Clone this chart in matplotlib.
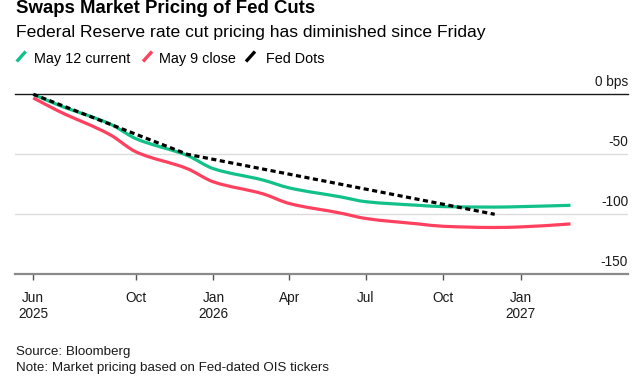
import matplotlib
matplotlib.use("Agg")
import matplotlib.pyplot as plt
import matplotlib.dates as mdates
import matplotlib.transforms as mtransforms
from matplotlib.path import Path
from matplotlib.patches import PathPatch
from matplotlib.lines import Line2D
import numpy as np
import datetime as dt

# ---------------- data ----------------
meeting_dates = ["2025-06-01", "2025-07-01", "2025-09-01", "2025-10-01", "2025-12-01",
                 "2026-01-01", "2026-03-01", "2026-04-01", "2026-06-01", "2026-07-01",
                 "2026-09-01", "2026-10-01", "2026-12-01", "2027-01-01", "2027-03-01"]
may12_current = [0, -9, -25, -37, -51, -62, -71.5, -78, -85.5, -89.5, -92.5, -93.6, -94, -93.6, -92.5]
may9_close = [-3, -14, -34, -48, -62, -73, -83, -91, -99, -103.5, -108, -110, -111, -110.5, -108]
dots_dates = ["2025-06-01", "2025-12-01", "2026-12-01"]
fed_dots = [0, -50, -100]

series_names = ["May 12 current", "May 9 close", "Fed Dots"]
xtick_dates = ["2025-06-01", "2025-10-01", "2026-01-01", "2026-04-01",
               "2026-07-01", "2026-10-01", "2027-01-01"]
xtick_labels = ["Jun\n2025", "Oct", "Jan\n2026", "Apr", "Jul", "Oct", "Jan\n2027"]
ytick_values = [0, -50, -100, -150]
ytick_labels = ["0 bps", "-50", "-100", "-150"]

GREEN = "#12c18a"
RED = "#ff405e"
BLACK = "#000000"

plt.rcParams['font.family'] = ['Liberation Sans', 'DejaVu Sans']


def to_num(ds):
    return np.array([mdates.date2num(dt.datetime.strptime(d, "%Y-%m-%d")) for d in ds])


def smooth_path(x, y):
    """Monotone cubic (Fritsch-Carlson) rendered as Bezier segments."""
    x = np.asarray(x, float)
    y = np.asarray(y, float)
    h = np.diff(x)
    d = np.diff(y) / h
    n = len(x)
    m = np.zeros(n)
    m[0] = d[0]
    m[-1] = d[-1]
    for i in range(1, n - 1):
        if d[i - 1] * d[i] <= 0:
            m[i] = 0
        else:
            w1 = 2 * h[i] + h[i - 1]
            w2 = h[i] + 2 * h[i - 1]
            m[i] = (w1 + w2) / (w1 / d[i - 1] + w2 / d[i])
    verts = [(x[0], y[0])]
    codes = [Path.MOVETO]
    for i in range(n - 1):
        verts += [(x[i] + h[i] / 3, y[i] + m[i] * h[i] / 3),
                  (x[i + 1] - h[i] / 3, y[i + 1] - m[i + 1] * h[i] / 3),
                  (x[i + 1], y[i + 1])]
        codes += [Path.CURVE4] * 3
    return Path(verts, codes)


W, H = 642, 377
fig = plt.figure(figsize=(W / 100, H / 100), dpi=100)

ax_left, ax_right = 15 / W, 628 / W
ax_bottom = 1 - 274.3 / H
ax_top = 1 - 88.3 / H
ax = fig.add_axes([ax_left, ax_bottom, ax_right - ax_left, ax_top - ax_bottom])

xm = to_num(meeting_dates)
xd = to_num(dots_dates)
jun1 = mdates.date2num(dt.datetime(2025, 6, 1))
ax.set_xlim(jun1 - 21.7, jun1 + 706.3)
ax.set_ylim(-150, 5)

# grid lines
for v in ytick_values:
    if v == 0:
        ax.axhline(v, color="#1a1a1a", lw=1.0, zorder=2, clip_on=False)
    elif v == -150:
        pass
    else:
        ax.axhline(v, color="#dcdcdc", lw=1.0, zorder=1)

# lines
p_red = PathPatch(smooth_path(xm, may9_close), facecolor="none", edgecolor=RED,
                  lw=2.3, capstyle="butt", joinstyle="round", zorder=3, clip_on=False)
p_green = PathPatch(smooth_path(xm, may12_current), facecolor="none", edgecolor=GREEN,
                    lw=2.3, capstyle="butt", joinstyle="round", zorder=4, clip_on=False)
ax.add_patch(p_red)
ax.add_patch(p_green)
ax.plot(xd, fed_dots, color=BLACK, lw=2.3, dashes=(1.6, 1.1), zorder=5,
        solid_capstyle="butt", dash_capstyle="butt", clip_on=False)

# spines
for s in ["top", "right", "left"]:
    ax.spines[s].set_visible(False)
ax.spines["bottom"].set_color("#8a8a8a")
ax.spines["bottom"].set_linewidth(1.6)
ax.spines["bottom"].set_zorder(6)

ax.set_yticks([])
ax.set_xticks(to_num(xtick_dates))
ax.set_xticklabels(xtick_labels, fontsize=9.8, color="#1a1a1a", linespacing=1.22)
ax.tick_params(axis="x", length=4, width=1, color="#555555", pad=8, direction="out")

# y labels, right aligned inside the plot, above gridlines
trans = mtransforms.blended_transform_factory(ax.transAxes, ax.transData)
offset = mtransforms.ScaledTranslation(0, 8 / 100, fig.dpi_scale_trans)
for v, lab in zip(ytick_values, ytick_labels):
    ax.text(1.0, v, lab, transform=trans + offset, ha="right", va="baseline",
            fontsize=9.8, color="#1a1a1a")

# titles
fig.text(16 / W, 1 - 12.7 / H, "Swaps Market Pricing of Fed Cuts", fontsize=13.45,
         fontweight="bold", color="#000000", va="baseline", ha="left")
fig.text(16 / W, 1 - 37.3 / H, "Federal Reserve rate cut pricing has diminished since Friday",
         fontsize=12.6, color="#000000", va="baseline", ha="left")

# legend
leg_y = 1 - 62.7 / H
leg_items = [(16.7, 34.3, GREEN), (143, 159, RED), (246, 266, BLACK)]
for (sx, tx, col), name in zip(leg_items, series_names):
    fig.add_artist(Line2D([sx / W, (sx + 9) / W], [1 - 61.5 / H, 1 - 51.5 / H],
                          transform=fig.transFigure, color=col, lw=2.4,
                          solid_capstyle="butt"))
    fig.text(tx / W, leg_y, name, fontsize=10.4, color="#000000", va="baseline", ha="left")

# footer
fig.text(16 / W, 1 - 354.5 / H, "Source: Bloomberg", fontsize=9.6, color="#1a1a1a",
         va="baseline", ha="left")
fig.text(16 / W, 1 - 370.5 / H, "Note: Market pricing based on Fed-dated OIS tickers",
         fontsize=9.6, color="#1a1a1a", va="baseline", ha="left")

fig.savefig("out.png", dpi=100)
